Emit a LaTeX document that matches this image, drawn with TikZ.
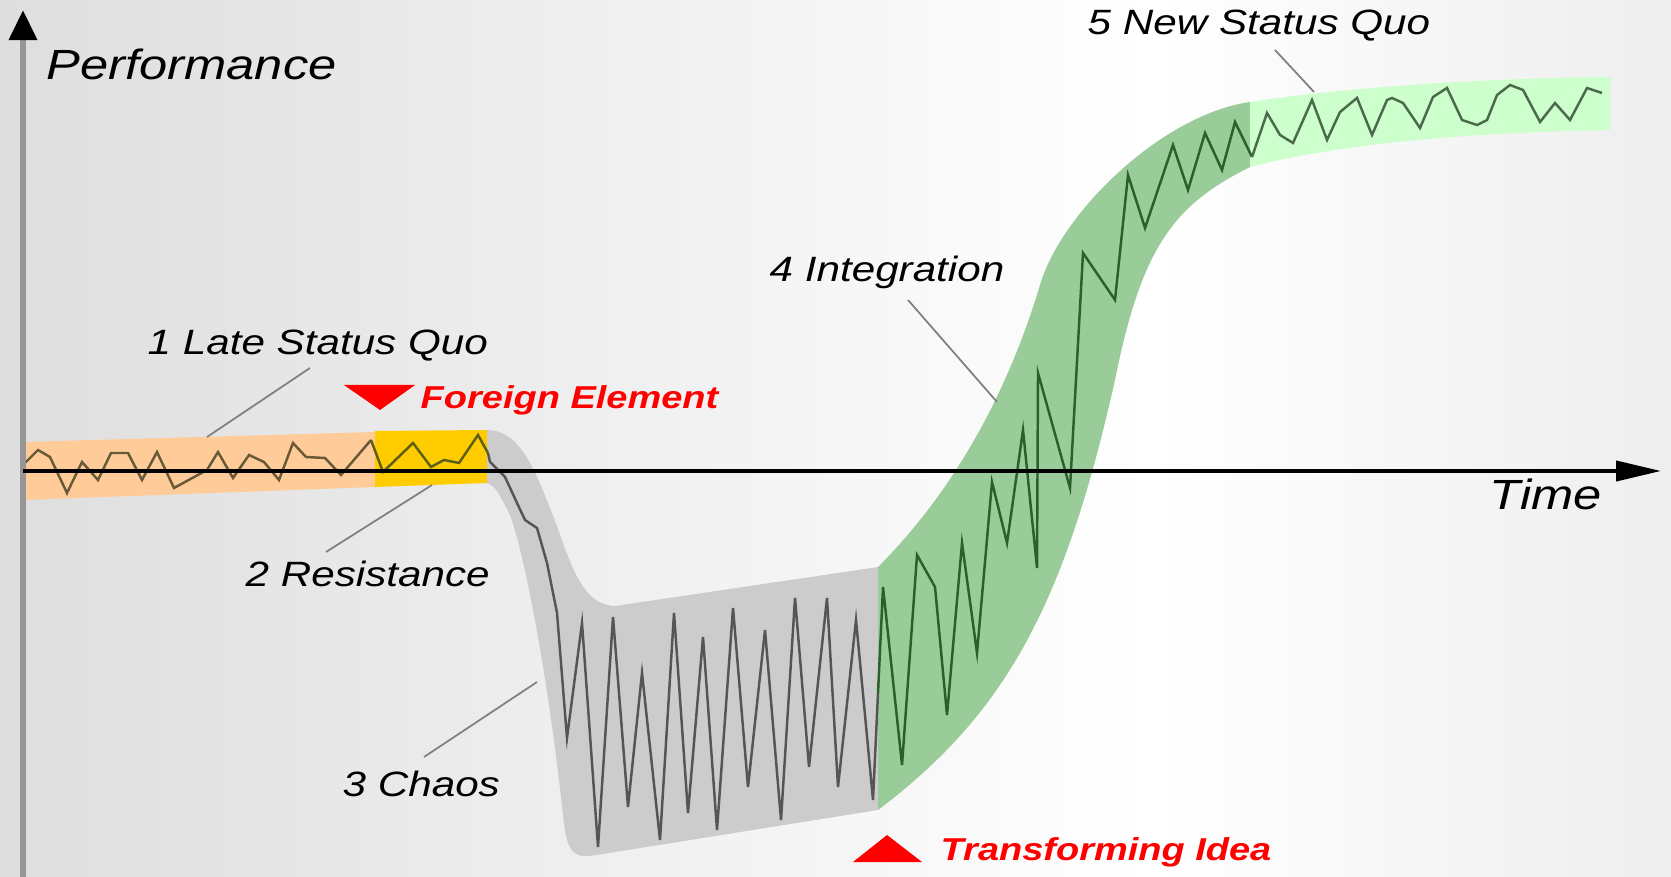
\documentclass[tikz,border=0pt]{standalone}
\usepackage{fontspec}
\setmainfont{Liberation Sans}[FakeStretch=1.2]
\usepackage{tikz}
\usetikzlibrary{arrows.meta}
\definecolor{chgorange}{RGB}{255,204,153}
\definecolor{chggold}{RGB}{255,204,0}
\definecolor{chggray}{RGB}{204,204,204}
\definecolor{chggreen}{RGB}{153,204,153}
\definecolor{chgmint}{RGB}{204,255,204}
\definecolor{chgred}{RGB}{255,0,0}
\definecolor{chgaxis}{RGB}{150,150,150}
\definecolor{chgbgl}{RGB}{222,222,222}
\definecolor{chgbgr}{RGB}{238,238,238}
\definecolor{chgbrown}{RGB}{105,90,55}
\definecolor{chgolive}{RGB}{95,95,20}
\definecolor{chgdark}{RGB}{85,85,85}
\definecolor{chgforest}{RGB}{45,95,45}
\definecolor{chgsage}{RGB}{75,105,75}
\tikzset{
  lbl/.style={anchor=base west, inner sep=0pt, font=\fontsize{10}{12}\selectfont\itshape},
  axlbl/.style={anchor=base west, inner sep=0pt, font=\fontsize{12}{14}\selectfont\itshape},
  redlbl/.style={anchor=base west, inner sep=0pt, text=chgred, font=\fontsize{9}{11}\selectfont\bfseries\itshape},
  leader/.style={gray, line width=0.5pt},
  perf/.style={line width=0.7pt, line join=miter}
}

\begin{document}
\begin{tikzpicture}[x=0.01cm, y=-0.01cm]
  \useasboundingbox (0,0) rectangle (1671,877);
  \shade[left color=chgbgl, right color=white] (0,0) rectangle (1150,877);
  \shade[left color=white, right color=chgbgr] (1150,0) rectangle (1671,877);

  \fill[chgorange] (23,442) -- (375,432) -- (375,487) -- (23,500) -- cycle;
  \fill[chggold] (375,431) -- (487,430) -- (487,483) -- (375,487) -- cycle;
  \fill[chggray] (487,430) .. controls (520,430) and (535,470) .. (552,513)
    .. controls (570,560) and (580,605) .. (615,606) -- (878,567) -- (878,810)
    -- (590,856) .. controls (570,858) and (566,845) .. (563,815)
    .. controls (545,650) and (520,540) .. (510,515)
    .. controls (500,495) and (495,485) .. (487,483) -- cycle;
  \fill[chggreen] (878,567) .. controls (951,494) and (1006,398) .. (1040,285)
    .. controls (1060,215) and (1160,115) .. (1250,102) -- (1250,167)
    .. controls (1176,204) and (1142,244) .. (1115,380)
    .. controls (1064,607) and (1005,714) .. (878,810) -- cycle;
  \fill[chgmint] (1250,102) .. controls (1330,90) and (1450,79) .. (1610,77) -- (1610,130)
    .. controls (1450,133) and (1330,146) .. (1250,167) -- cycle;

  \draw[perf, chgbrown] plot coordinates {(25,463) (38,450) (50,457) (67,493) (82,462) (98,480)
    (111,453) (128,453) (142,480) (157,452) (174,488) (207,470) (218,452) (233,478) (249,455)
    (264,462) (279,480) (293,443) (306,457) (325,458) (341,475) (371,440)};
  \draw[perf, chgolive] plot coordinates {(371,440) (383,472) (413,443) (431,467) (444,460)
    (459,463) (478,435) (488,453)};
  \draw[perf, chgdark] plot coordinates {(488,453) (490,462) (505,477) (517,503) (525,520)
    (537,528) (547,563) (557,613) (567,738) (582,623) (598,847) (613,617) (628,807) (642,673)
    (660,840) (674,613) (688,813) (703,637) (717,830) (733,608) (748,787) (765,630) (781,820)
    (795,598) (809,767) (827,598) (838,787) (856,620) (873,800) (878,693)};
  \draw[perf, chgforest] plot coordinates {(878,693) (883,587) (902,765) (917,555) (935,587)
    (947,715) (962,543) (977,653) (992,482) (1007,543) (1023,430) (1037,568) (1038,373)
    (1070,488) (1083,253) (1115,300) (1128,175) (1145,228) (1173,145) (1188,190) (1205,133)
    (1222,170) (1235,122) (1252,157)};
  \draw[perf, chgsage] plot coordinates {(1252,157) (1267,113) (1280,135) (1293,143) (1312,100)
    (1327,140) (1340,112) (1357,98) (1372,135) (1387,100) (1392,98) (1403,103) (1420,128)
    (1433,97) (1447,88) (1462,120) (1477,125) (1487,120) (1497,95) (1510,85) (1523,90)
    (1540,122) (1555,103) (1570,120) (1587,88) (1602,93)};

  \draw[chgaxis, line width=1.8pt, -{Triangle[length=0.3cm, width=0.27cm, color=black]}] (23,877) -- (23,10);
  \draw[line width=1.1pt, -{Triangle[length=0.45cm, width=0.2cm]}] (23,471) -- (1661,471);

  \fill[chgred] (344,385) -- (415,385) -- (380,410) -- cycle;
  \fill[chgred] (853,862) -- (922,862) -- (887,835) -- cycle;

  \node[axlbl] (perfl) at (46,80) {Performance};
  \node[axlbl] (timel) at (1489,510) {Time};
  \node[lbl] (lsq) at (147,355) {1 Late Status Quo};
  \node[lbl] (res) at (245,587) {2 Resistance};
  \node[lbl] (cha) at (342,796) {3 Chaos};
  \node[lbl] (intg) at (769,282) {4 Integration};
  \node[lbl] (nsq) at (1087,35) {5 New Status Quo};
  \node[redlbl] (fel) at (420,409) {Foreign Element};
  \node[redlbl] (tid) at (940,860) {Transforming Idea};

  \coordinate (lsqend) at (310,368);
  \coordinate (lsqband) at (207,437);
  \coordinate (resband) at (432,485);
  \coordinate (resend) at (326,552);
  \coordinate (chaband) at (537,682);
  \coordinate (chaend) at (424,757);
  \coordinate (intgend) at (908,300);
  \coordinate (intgband) at (997,402);
  \coordinate (nsqend) at (1275,50);
  \coordinate (nsqband) at (1314,92);
  \draw[leader] (lsqend) -- (lsqband);
  \draw[leader] (resband) -- (resend);
  \draw[leader] (chaband) -- (chaend);
  \draw[leader] (intgend) -- (intgband);
  \draw[leader] (nsqend) -- (nsqband);
\end{tikzpicture}
\end{document}
